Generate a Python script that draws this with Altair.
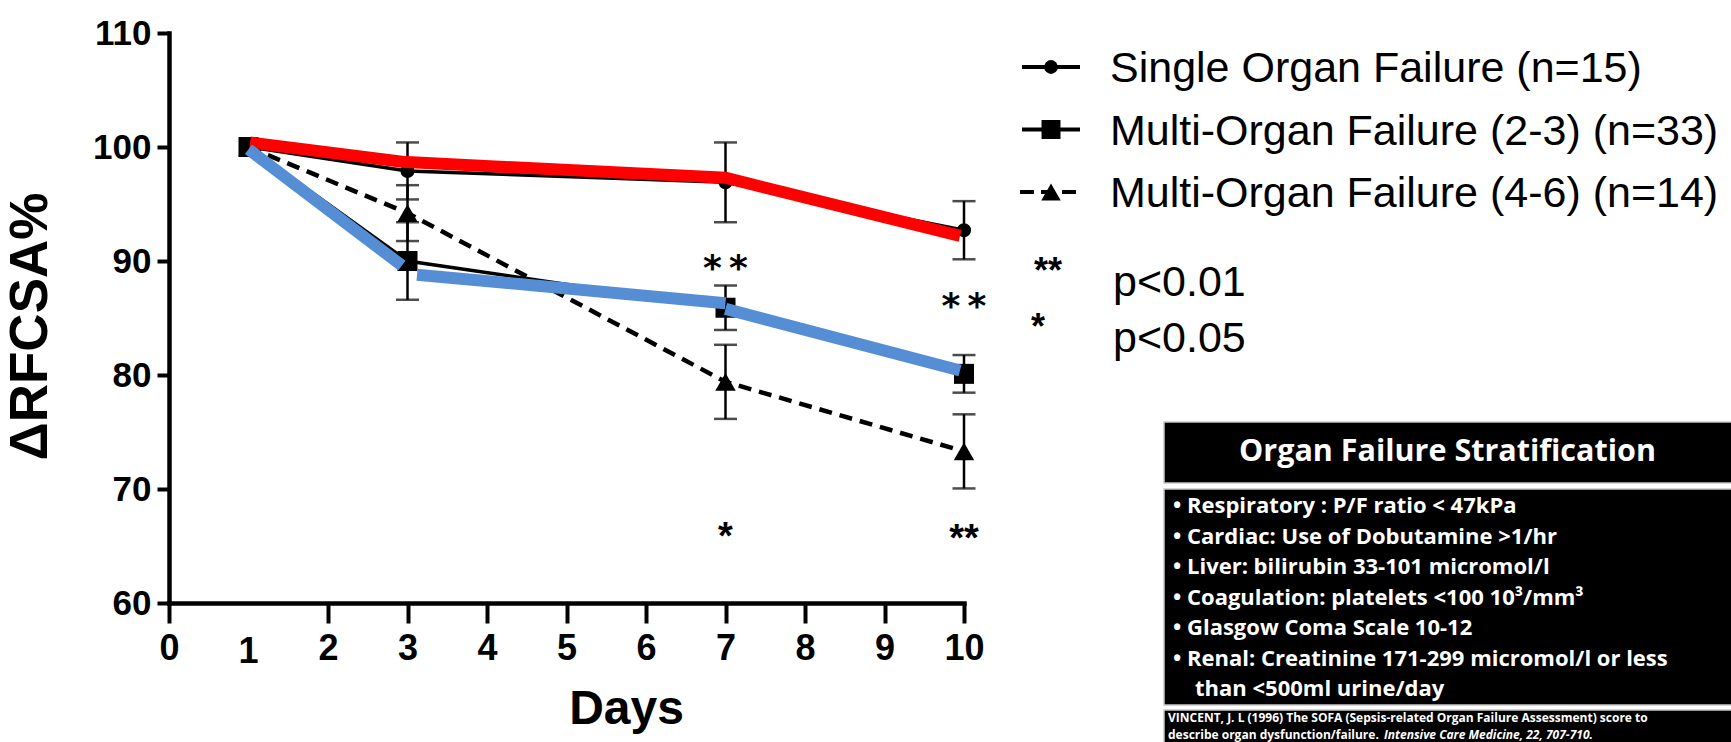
import altair as alt
import pandas as pd

# ---- data -----------------------------------------------------------------
days = [1, 3, 7, 10]

single_mean = [100.0, 97.9, 96.9, 92.7]
single_err = [0.0, 2.5, 3.5, 2.55]

mof23_mean = [100.0, 90.0, 85.9, 80.1]
mof23_err = [0.0, 3.4, 1.95, 1.65]

mof46_mean = [100.0, 94.2, 79.4, 73.3]
mof46_err = [0.0, 2.45, 3.25, 3.25]

group_names = [
    "Single Organ Failure (n=15)",
    "Multi-Organ Failure (2-3) (n=33)",
    "Multi-Organ Failure (4-6) (n=14)",
]

# hand-drawn highlight strokes laid over the series
red_days = [1.02, 2.93, 7.0, 9.95]
red_vals = [100.4, 98.7, 97.3, 92.2]
blue_days = [1.0, 2.93, 3.12, 7.0, 7.0, 9.95]
blue_vals = [99.8, 89.6, 88.8, 86.3, 85.8, 80.4]
blue_piece = [0, 0, 1, 1, 2, 2]

# significance marks
sig_top_days = [7, 10]
sig_top_vals = [89.5, 86.1]
sig_top_text = ["**", "**"]
sig_low_days = [7, 10]
sig_low_vals = [66.0, 65.8]
sig_low_text = ["*", "**"]

x_ticks = [0, 2, 3, 4, 5, 6, 7, 8, 9, 10]
y_ticks = [60, 70, 80, 90, 100, 110]

legend_notes = ["**", "*"]
legend_note_text = ["p<0.01", "p<0.05"]

box_title = "Organ Failure Stratification"
box_lines = [
    "Respiratory : P/F ratio < 47kPa",
    "Cardiac: Use of Dobutamine >1/hr",
    "Liver: bilirubin 33-101 micromol/l",
    "Coagulation: platelets <100 10³/mm³",
    "Glasgow Coma Scale 10-12",
    "Renal: Creatinine 171-299 micromol/l or less",
    "than <500ml urine/day",
]
box_bullet = [True, True, True, True, True, True, False]
cite_line1 = "VINCENT, J. L (1996) The SOFA (Sepsis-related Organ Failure Assessment) score to"
cite_line2 = "describe organ dysfunction/failure."
cite_italic = "Intensive Care Medicine, 22, 707-710."

# ---- layout (pixels, relative to the plot origin) -------------------------
W, H = 795, 570
PAD_L, PAD_T = 169, 33
NUM_FONT = "Liberation Sans, Arial"
TXT_FONT = "Liberation Sans, Arial"
SLIDE_FONT = "Open Sans, Lato, sans-serif"

rows = []
for g, means, errs in zip(group_names, [single_mean, mof23_mean, mof46_mean],
                          [single_err, mof23_err, mof46_err]):
    for d, m, e in zip(days, means, errs):
        rows.append({"day": d, "group": g, "mean": m, "lo": m - e, "hi": m + e, "err": e})
df = pd.DataFrame(rows)

xs = alt.Scale(domain=[0, 10], nice=False, zero=False)
ys = alt.Scale(domain=[60, 110], nice=False, zero=False)

x_axis = alt.Axis(
    values=x_ticks, format="d", title="Days", grid=False,
    domainColor="black", domainWidth=4.5, domainCap="square",
    tickColor="black", tickWidth=4, tickSize=20,
    labelFont=NUM_FONT, labelFontSize=36, labelFontWeight="bold", labelColor="black",
    labelPadding=8, labelFlush=False,
    titleFont=NUM_FONT, titleFontSize=48, titleFontWeight="bold", titleColor="black",
    titleX=457, titleY=106, titleAlign="center", titleBaseline="middle",
)
y_axis = alt.Axis(
    values=y_ticks, format="d", title="ΔRFCSA%", grid=False,
    domainColor="black", domainWidth=4.5, domainCap="square",
    tickColor="black", tickWidth=4, tickSize=12,
    labelFont=NUM_FONT, labelFontSize=35, labelFontWeight="bold", labelColor="black",
    labelPadding=6, labelFlush=False,
    titleFont=TXT_FONT, titleFontSize=53, titleFontWeight="bold", titleColor="black",
    titleAngle=270, titleX=-139, titleY=293, titleAlign="center", titleBaseline="middle",
)

base = alt.Chart(df)
X = alt.X("day:Q", scale=xs, axis=x_axis)
Y = alt.Y("mean:Q", scale=ys, axis=y_axis)

line_single = base.transform_filter(alt.datum.group == group_names[0]).mark_line(
    color="black", strokeWidth=3.5).encode(x=X, y=Y)
line_23 = base.transform_filter(alt.datum.group == group_names[1]).mark_line(
    color="black", strokeWidth=3.5).encode(x="day:Q", y="mean:Q")
line_46 = base.transform_filter(alt.datum.group == group_names[2]).mark_line(
    color="black", strokeWidth=4.5, strokeDash=[13, 8]).encode(x="day:Q", y="mean:Q")

err = base.transform_filter(alt.datum.err > 0)
err_rule = err.mark_rule(color="black", strokeWidth=2.5).encode(
    x="day:Q", y="lo:Q", y2="hi:Q")
cap_lo = err.mark_tick(color="black", orient="horizontal", size=23, thickness=2.5).encode(
    x="day:Q", y="lo:Q")
cap_hi = err.mark_tick(color="black", orient="horizontal", size=23, thickness=2.5).encode(
    x="day:Q", y="hi:Q")

pt_single = base.transform_filter(alt.datum.group == group_names[0]).mark_point(
    shape="circle", filled=True, color="black", size=200, opacity=1).encode(x="day:Q", y="mean:Q")
pt_46 = base.transform_filter(alt.datum.group == group_names[2]).mark_point(
    shape="triangle-up", filled=True, color="black", size=420, opacity=1).encode(x="day:Q", y="mean:Q")
pt_23 = base.transform_filter(alt.datum.group == group_names[1]).mark_point(
    shape="square", filled=True, color="black", size=400, opacity=1).encode(x="day:Q", y="mean:Q")

red_df = pd.DataFrame({"day": red_days, "val": red_vals})
blue_df = pd.DataFrame({"day": blue_days, "val": blue_vals, "piece": blue_piece})
red_line = alt.Chart(red_df).mark_line(color="#FF0000", strokeWidth=12, strokeCap="butt").encode(
    x="day:Q", y="val:Q")
blue_line = alt.Chart(blue_df).mark_line(color="#558ED5", strokeWidth=12, strokeCap="butt").encode(
    x="day:Q", y="val:Q", detail="piece:N")

# star glyphs sit high in the em box, so shift them down onto their value
TOP_STAR = 36
top_df = pd.DataFrame({"day": sig_top_days, "val": sig_top_vals,
                       "t": [s.replace("**", "*\u2009*") for s in sig_top_text]})
low_df = pd.DataFrame({"day": sig_low_days, "val": sig_low_vals, "t": sig_low_text})
sig_top = alt.Chart(top_df).mark_text(
    font="DejaVu Sans", fontWeight="bold", fontSize=TOP_STAR, color="black",
    baseline="alphabetic", dy=13).encode(x="day:Q", y="val:Q", text="t:N")
sig_low = alt.Chart(low_df).mark_text(
    font=TXT_FONT, fontWeight="bold", fontSize=38, color="black",
    baseline="middle", dy=3).encode(x="day:Q", y="val:Q", text="t:N")

one_df = pd.DataFrame({"day": [1], "t": ["1"]})
one_label = alt.Chart(one_df).mark_text(
    font=NUM_FONT, fontWeight="bold", fontSize=36, color="black", baseline="top").encode(
    x="day:Q", y=alt.value(H + 20 + 8 + 4), text="t:N")

# ---- legend ---------------------------------------------------------------
LEG_Y0, LEG_GAP = 34, 62.5
leg = pd.DataFrame({
    "label": group_names,
    "ly": [LEG_Y0 + i * LEG_GAP for i in range(3)],
})
leg_line_solid = alt.Chart(leg.iloc[:2]).mark_rule(color="black", strokeWidth=4).encode(
    x=alt.value(853), x2=alt.value(911), y=alt.Y("ly:Q", scale=None))
leg_line_dash = alt.Chart(leg.iloc[2:]).mark_rule(
    color="black", strokeWidth=4, strokeDash=[14, 7]).encode(
    x=alt.value(851), x2=alt.value(911), y=alt.Y("ly:Q", scale=None))
leg_circle = alt.Chart(leg.iloc[:1]).mark_point(
    shape="circle", filled=True, color="black", size=190, opacity=1).encode(
    x=alt.value(882), y=alt.Y("ly:Q", scale=None))
leg_square = alt.Chart(leg.iloc[1:2]).mark_point(
    shape="square", filled=True, color="black", size=360, opacity=1).encode(
    x=alt.value(882), y=alt.Y("ly:Q", scale=None))
leg_tri = alt.Chart(leg.iloc[2:]).mark_point(
    shape="triangle-up", filled=True, color="black", size=380, opacity=1).encode(
    x=alt.value(882), y=alt.Y("ly:Q", scale=None))
leg_text = alt.Chart(leg).mark_text(
    font=TXT_FONT, fontSize=43, color="black", align="left", baseline="middle", dy=2).encode(
    x=alt.value(941), y=alt.Y("ly:Q", scale=None), text="label:N")

NOTE_Y0, NOTE_GAP = 240, 56
notes = pd.DataFrame({
    "star": legend_notes, "txt": legend_note_text,
    "ly": [NOTE_Y0 + i * NOTE_GAP for i in range(2)],
    "sx": [879, 869],
})
note_star = alt.Chart(notes).mark_text(
    font=TXT_FONT, fontWeight="bold", fontSize=36, color="black", baseline="middle", dy=-1).encode(
    x=alt.X("sx:Q", scale=None), y=alt.Y("ly:Q", scale=None), text="star:N")
note_txt = alt.Chart(notes).mark_text(
    font=TXT_FONT, fontSize=43, color="black", align="left", baseline="middle", dy=10).encode(
    x=alt.value(944), y=alt.Y("ly:Q", scale=None), text="txt:N")

# ---- stratification box ---------------------------------------------------
BX0, BX1 = 1164 - PAD_L, 1731 - PAD_L + 4
boxes = pd.DataFrame({
    "x0": [BX0] * 3, "x1": [BX1] * 3,
    "y0": [422 - PAD_T, 489 - PAD_T, 710 - PAD_T],
    "y1": [483 - PAD_T, 705 - PAD_T, 742 - PAD_T + 4],
})
box_rects = alt.Chart(boxes).mark_rect(color="black", stroke="#c8c8c8", strokeWidth=1.5).encode(
    x=alt.X("x0:Q", scale=None), x2="x1:Q", y=alt.Y("y0:Q", scale=None), y2="y1:Q")

title_df = pd.DataFrame({"t": [box_title]})
box_head = alt.Chart(title_df).mark_text(
    font=SLIDE_FONT, fontWeight="bold", fontSize=30.5, color="white", baseline="middle").encode(
    x=alt.value((BX0 + 1731 - PAD_L) / 2), y=alt.value(452 - PAD_T), text="t:N")

# bullet lines carry their own bullet; the wrapped continuation is indented
LINE_Y0, LINE_GAP = 506 - PAD_T, 30.5
line_y = [LINE_Y0 + i * LINE_GAP for i in range(7)]
body = pd.DataFrame({
    "t": [("•  " + t) if b else t for t, b in zip(box_lines, box_bullet)],
    "ly": line_y,
    "lx": [1173 - PAD_L if b else 1195 - PAD_L for b in box_bullet],
})
body_text = alt.Chart(body).mark_text(
    font=SLIDE_FONT, fontWeight="bold", fontSize=22, color="white", align="left",
    baseline="middle").encode(
    x=alt.X("lx:Q", scale=None), y=alt.Y("ly:Q", scale=None), text="t:N")

CITE_SIZE = 12
cite = pd.DataFrame({"t": [cite_line1, cite_line2], "ly": [718 - PAD_T, 734.5 - PAD_T]})
cite_text = alt.Chart(cite).mark_text(
    font=SLIDE_FONT, fontWeight="bold", fontSize=CITE_SIZE, color="white", align="left",
    baseline="middle").encode(
    x=alt.value(1168 - PAD_L), y=alt.Y("ly:Q", scale=None), text="t:N")
cite_it = alt.Chart(pd.DataFrame({"t": [cite_italic]})).mark_text(
    font=SLIDE_FONT, fontWeight="bold", fontStyle="italic", fontSize=CITE_SIZE, color="white",
    align="left", baseline="middle").encode(
    x=alt.value(1384 - PAD_L), y=alt.value(734.5 - PAD_T), text="t:N")

chart = alt.layer(
    line_single, line_23, line_46,
    err_rule, cap_lo, cap_hi,
    pt_single, pt_46, pt_23,
    red_line, blue_line,
    sig_top, sig_low, one_label,
    leg_line_solid, leg_line_dash, leg_circle, leg_square, leg_tri, leg_text,
    note_star, note_txt,
    box_rects, box_head, body_text, cite_text, cite_it,
).properties(
    width=W, height=H,
    padding={"left": PAD_L, "top": PAD_T, "right": 1731 - PAD_L - W, "bottom": 742 - PAD_T - H},
    autosize=alt.AutoSizeParams(type="none"),
    background="white",
).configure_view(stroke=None)

chart.save("out.html", embed_options={"renderer": "svg", "actions": False})
